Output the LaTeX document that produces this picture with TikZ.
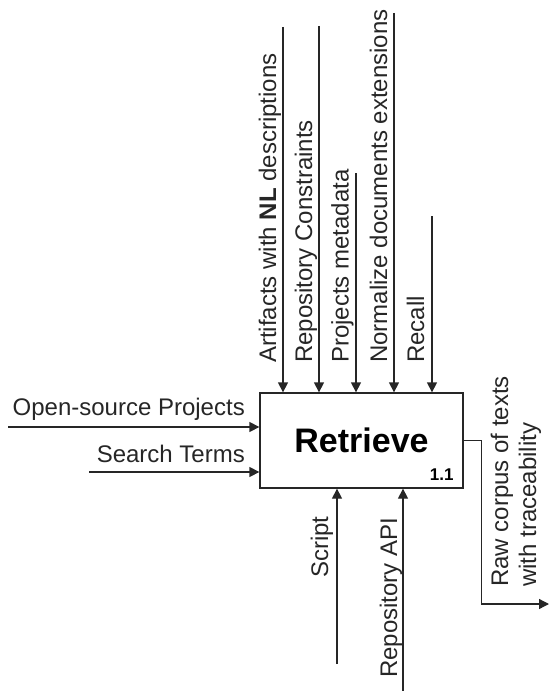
\documentclass[tikz,border=0pt]{standalone}
\usepackage{fontspec}
\setmainfont{Liberation Sans}
\usetikzlibrary{arrows.meta, positioning}

\begin{document}
\begin{tikzpicture}[x=1bp, y=-1bp,
  activity/.style={draw=black!85, line width=1.3bp, minimum width=203bp,
                   minimum height=95bp, inner sep=0pt,
                   font=\bfseries\fontsize{34bp}{40bp}\selectfont},
  arrow/.style={-{Triangle[length=10bp, width=10bp]}, line width=1.3bp, draw=black!85},
  flowlabel/.style={font=\fontsize{24bp}{28bp}\selectfont, text=black!85, inner sep=0pt},
  vlabel/.style={flowlabel, rotate=90, anchor=base west}
]
\useasboundingbox (0,0) rectangle (549,691);

\node[activity] (ret) at (361.5,440.5) {Retrieve};
\node[font=\bfseries\fontsize{17bp}{20bp}\selectfont, anchor=base east, inner sep=0pt]
  (num) at ([xshift=-10bp, yshift=8bp]ret.south east) {1.1};

\coordinate (in1) at (8,427);
\coordinate (in2) at (89,472);
\draw[arrow] (in1) -- (in1 -| ret.west);
\draw[arrow] (in2) -- (in2 -| ret.west);
\node[flowlabel, anchor=base east] (lin1) at (245,415) {Open-source Projects};
\node[flowlabel, anchor=base east] (lin2) at (245,462) {Search Terms};

\coordinate (ctl1) at (283,27);
\coordinate (ctl2) at (319,26);
\coordinate (ctl3) at (356,173);
\coordinate (ctl4) at (394,13);
\coordinate (ctl5) at (432,216);
\draw[arrow] (ctl1) -- (ctl1 |- ret.north);
\draw[arrow] (ctl2) -- (ctl2 |- ret.north);
\draw[arrow] (ctl3) -- (ctl3 |- ret.north);
\draw[arrow] (ctl4) -- (ctl4 |- ret.north);
\draw[arrow] (ctl5) -- (ctl5 |- ret.north);
\node[vlabel] (lctl1) at (276,363) {Artifacts with \textbf{NL} descriptions};
\node[vlabel] (lctl2) at (312,363) {Repository Constraints};
\node[vlabel] (lctl3) at (348.5,363) {Projects metadata};
\node[vlabel] (lctl4) at (387,363) {Normalize documents extensions};
\node[vlabel] (lctl5) at (424,363) {Recall};

\coordinate (mech1) at (337,664);
\coordinate (mech2) at (403,691);
\draw[arrow] (mech1) -- (mech1 |- ret.south);
\draw[arrow] (mech2) -- (mech2 |- ret.south);
\node[vlabel] (lmech1) at (328,578) {Script};
\node[vlabel] (lmech2) at (397,678) {Repository API};

\coordinate (out1) at (549,604);
\draw[arrow] (ret.east) -- ++(18,0) |- (out1);
\node[flowlabel, rotate=90, anchor=west, align=left] (lout1) at (516,587)
  {Raw corpus of texts\\with traceability};

\end{tikzpicture}
\end{document}
